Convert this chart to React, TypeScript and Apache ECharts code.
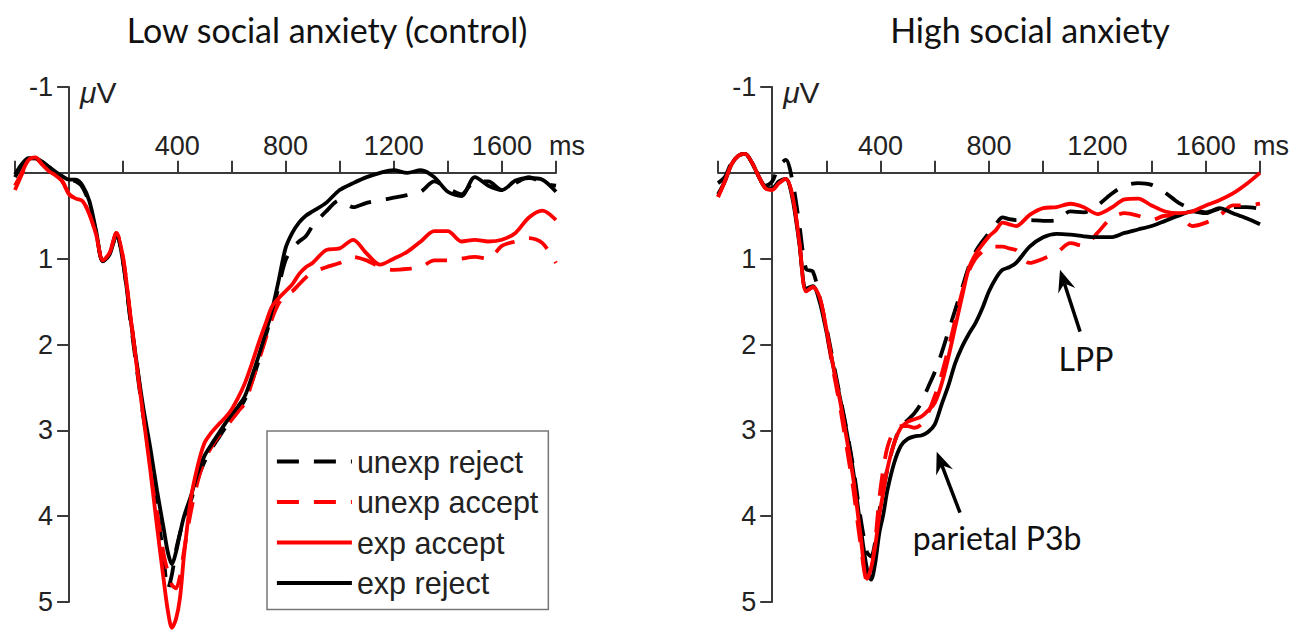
import React, { useEffect, useRef } from 'react';
import * as echarts from 'echarts';

// time points (ms)
const times = [-200,-175,-150,-125,-100,-75,-50,-25,0,25,50,75,100,125,150,175,200,225,250,275,300,325,350,365,380,395,410,425,450,475,500,525,550,575,600,625,650,675,700,725,750,775,800,825,850,875,900,950,1000,1050,1100,1150,1200,1250,1300,1350,1400,1450,1500,1550,1600,1650,1700,1750,1800];

// Low social anxiety (control) — µV
const lowUnexpReject = [0.05,-0.08,-0.16,-0.17,-0.13,-0.07,-0.01,0.04,0.08,0.1,0.17,0.36,0.7,1.03,0.95,0.72,1.05,1.68,2.28,2.85,3.35,3.9,4.5,4.85,4.68,4.4,4.2,4.03,3.82,3.57,3.37,3.22,3.1,2.98,2.88,2.77,2.64,2.44,2.2,1.92,1.64,1.32,1.02,0.88,0.8,0.74,0.62,0.45,0.32,0.4,0.35,0.32,0.29,0.26,0.22,0.1,0.18,0.25,0.1,0.1,0.2,0.12,0.05,0.12,0.15];
const lowUnexpAccept = [0.2,0.02,-0.15,-0.17,-0.1,-0.03,0.03,0.1,0.25,0.3,0.33,0.48,0.72,1.02,0.93,0.7,1.0,1.62,2.22,2.82,3.4,3.95,4.45,4.65,4.8,4.84,4.7,4.4,3.95,3.6,3.35,3.2,3.08,2.98,2.88,2.78,2.68,2.45,2.2,1.95,1.7,1.52,1.42,1.38,1.3,1.22,1.16,1.1,1.05,0.98,1.02,1.1,1.13,1.12,1.1,1.02,1.02,1.0,0.98,1.0,0.85,0.8,0.76,0.82,1.05];
const lowExpAccept = [0.15,0.0,-0.15,-0.18,-0.1,-0.02,0.03,0.1,0.25,0.3,0.33,0.48,0.72,1.02,0.93,0.7,1.0,1.62,2.25,2.85,3.46,4.12,4.75,5.1,5.3,5.2,4.95,4.45,3.8,3.42,3.15,3.03,2.94,2.86,2.76,2.62,2.45,2.23,1.99,1.77,1.56,1.46,1.38,1.3,1.18,1.1,1.05,0.9,0.88,0.78,0.94,1.07,1.0,0.92,0.8,0.68,0.68,0.8,0.78,0.8,0.78,0.7,0.52,0.44,0.55];
const lowExpReject = [0.02,-0.1,-0.17,-0.17,-0.13,-0.07,-0.01,0.04,0.08,0.08,0.15,0.33,0.68,1.03,0.95,0.72,1.05,1.65,2.22,2.75,3.2,3.7,4.15,4.42,4.56,4.42,4.2,4.0,3.77,3.5,3.3,3.17,3.05,2.93,2.82,2.72,2.6,2.38,2.14,1.88,1.6,1.25,0.88,0.7,0.58,0.5,0.45,0.35,0.2,0.12,0.05,0.0,-0.03,0.0,-0.03,0.05,0.22,0.27,0.05,0.15,0.2,0.09,0.06,0.08,0.22];

// High social anxiety — µV
const highUnexpReject = [0.12,0.05,-0.12,-0.2,-0.22,-0.12,0.04,0.15,0.1,-0.08,-0.15,0.1,0.6,1.12,1.15,1.45,1.8,2.2,2.6,3.0,3.45,4.0,4.42,4.47,4.3,3.95,3.7,3.45,3.15,2.95,2.88,2.8,2.68,2.5,2.32,2.1,1.85,1.6,1.35,1.1,0.92,0.8,0.7,0.6,0.52,0.54,0.55,0.55,0.56,0.55,0.45,0.46,0.38,0.25,0.15,0.12,0.14,0.23,0.35,0.42,0.46,0.42,0.4,0.4,0.42];
const highUnexpAccept = [0.28,0.1,-0.1,-0.2,-0.22,-0.12,0.04,0.18,0.2,0.12,0.07,0.27,0.8,1.38,1.33,1.45,1.85,2.3,2.72,3.2,3.7,4.3,4.75,4.65,4.3,3.8,3.45,3.2,3.0,2.95,2.95,2.97,2.93,2.8,2.6,2.35,2.05,1.72,1.4,1.15,1.0,0.92,0.87,0.86,0.86,0.88,0.9,1.05,1.0,0.93,0.82,0.85,0.7,0.53,0.47,0.5,0.55,0.5,0.5,0.62,0.58,0.5,0.38,0.38,0.36];
const highExpAccept = [0.28,0.1,-0.1,-0.2,-0.22,-0.12,0.04,0.18,0.2,0.12,0.07,0.27,0.8,1.38,1.33,1.45,1.82,2.25,2.65,3.1,3.58,4.2,4.73,4.6,4.35,4.0,3.72,3.45,3.15,2.97,2.9,2.87,2.84,2.77,2.68,2.46,2.15,1.8,1.45,1.12,0.95,0.84,0.74,0.67,0.58,0.6,0.62,0.49,0.41,0.4,0.36,0.4,0.48,0.41,0.31,0.3,0.38,0.45,0.47,0.45,0.38,0.32,0.24,0.13,0.0];
const highExpReject = [0.25,0.1,-0.1,-0.2,-0.22,-0.12,0.04,0.17,0.18,0.1,0.07,0.3,0.82,1.35,1.32,1.5,1.85,2.25,2.62,3.02,3.5,4.1,4.62,4.74,4.55,4.2,3.98,3.7,3.38,3.18,3.1,3.07,3.06,3.02,2.93,2.7,2.48,2.22,2.03,1.88,1.75,1.58,1.38,1.23,1.13,1.1,1.05,0.86,0.75,0.71,0.72,0.74,0.75,0.75,0.7,0.66,0.62,0.56,0.5,0.45,0.47,0.41,0.47,0.53,0.6];

const legendNames = ['unexp reject', 'unexp accept', 'exp accept', 'exp reject'];
const panelTitles = ['Low social anxiety (control)', 'High social anxiety'];

// annotations (data coordinates in the right panel): [text, textT, textV, tailT, tailV, tipT, tipV]
const annotations: [string, number, number, number, number, number, number][] = [
  ['LPP', 1158, 2.16, 1136, 1.85, 1062, 1.13],
  ['parietal P3b', 830, 4.25, 693, 3.96, 607, 3.25],
];

const X_MIN = -200, X_MAX = 1800, Y_MIN = -1, Y_MAX = 5;
const RED = '#ff0000';
const BLACK = '#000000';
const AXIS = '#3a3a3a';
const TICKFONT = "'Liberation Sans', Arial, sans-serif";
const TITLEFONT = "Lato, 'Open Sans', sans-serif";

export default function App() {
  const ref = useRef<HTMLDivElement>(null);
  useEffect(() => {
    const chart = echarts.init(ref.current!, null, { renderer: 'svg' });
    const W = 1294, H = 632;
    const grids = [
      { left: 15, right: 738, top: 87, bottom: 30, outerBoundsMode: 'none' },
      { left: 718, right: 34, top: 87, bottom: 30, outerBoundsMode: 'none' },
    ];
    const mk = (g: number, name: string, arr: number[], color: string, dashed: boolean, z: number) => ({
      type: 'line',
      name,
      xAxisIndex: g,
      yAxisIndex: g,
      data: times.map((t, i) => [t, arr[i]]),
      symbol: 'none',
      smooth: 0.3,
      clip: false,
      color,
      z,
      lineStyle: { color, width: 3.8, type: dashed ? [22, 15] : 'solid', cap: 'butt' },
    });
    const panels = [
      [lowUnexpReject, lowUnexpAccept, lowExpAccept, lowExpReject],
      [highUnexpReject, highUnexpAccept, highExpAccept, highExpReject],
    ];
    const series: any[] = [];
    panels.forEach((p, g) => {
      series.push(mk(g, legendNames[0], p[0], BLACK, true, 2));
      series.push(mk(g, legendNames[1], p[1], RED, true, 3));
      series.push(mk(g, legendNames[3], p[3], BLACK, false, 4));
      series.push(mk(g, legendNames[2], p[2], RED, false, 5));
    });
    const xAxes = grids.map((gr, g) => {
      const gh = H - gr.top - gr.bottom;
      return {
        type: 'value',
        gridIndex: g,
        min: X_MIN,
        max: X_MAX,
        interval: 200,
        position: 'top',
        offset: -(gh * (0 - Y_MIN)) / (Y_MAX - Y_MIN),
        axisLine: { onZero: false, lineStyle: { color: AXIS, width: 2 } },
        axisTick: { show: true, length: 12, lineStyle: { color: AXIS, width: 2 } },
        axisLabel: {
          show: true,
          showMinLabel: true,
          showMaxLabel: true,
          margin: 13,
          fontSize: 27,
          fontFamily: TICKFONT,
          color: '#222',
          formatter: (v: number) => (v === 1800 ? '{ms|ms}' : v > 0 && v % 400 === 0 ? String(v) : ''),
          rich: { ms: { fontSize: 27, fontFamily: TICKFONT, color: '#222', padding: [0, 0, 0, 22] } },
        },
        splitLine: { show: false },
      };
    });
    const yAxes = grids.map((gr, g) => {
      const gw = W - gr.left - gr.right;
      return {
        type: 'value',
        gridIndex: g,
        inverse: true,
        min: Y_MIN,
        max: Y_MAX,
        interval: 1,
        position: 'left',
        offset: -(gw * (0 - X_MIN)) / (X_MAX - X_MIN),
        axisLine: { onZero: false, lineStyle: { color: AXIS, width: 2 } },
        axisTick: { show: true, length: 12, lineStyle: { color: AXIS, width: 2 } },
        axisLabel: {
          margin: 16,
          fontSize: 27,
          fontFamily: TICKFONT,
          color: '#222',
          showMinLabel: true,
          showMaxLabel: true,
          formatter: (v: number) => (v === 0 ? '' : String(v)),
        },
        splitLine: { show: false },
      };
    });
    chart.setOption({
      animation: false,
      backgroundColor: '#ffffff',
      title: [
        { text: panelTitles[0], left: 322, top: 7, textAlign: 'center', textStyle: { fontFamily: TITLEFONT, fontSize: 34, fontWeight: 'normal', color: '#111' } },
        { text: panelTitles[1], left: 1025, top: 7, textAlign: 'center', textStyle: { fontFamily: TITLEFONT, fontSize: 34, fontWeight: 'normal', color: '#111' } },
      ],
      grid: grids,
      xAxis: xAxes,
      yAxis: yAxes,
      legend: {
        data: legendNames,
        orient: 'vertical',
        left: 267,
        top: 431,
        itemWidth: 75,
        itemHeight: 14,
        itemGap: 9.5,
        padding: [15, 10, 11, 8],
        borderColor: '#777',
        borderWidth: 1.5,
        backgroundColor: '#fff',
        selectedMode: false,
        itemStyle: { color: 'rgba(0,0,0,0)', borderWidth: 0, opacity: 0 },
        lineStyle: { width: 3.8 },
        textStyle: { fontSize: 30.5, fontFamily: TICKFONT, color: '#222', lineHeight: 28 },
      },
      series,
    });

    const px = (g: number, t: number, v: number) => chart.convertToPixel({ gridIndex: g } as any, [t, v]) as number[];
    const graphics: any[] = [];
    [0, 1].forEach((g) => {
      const p = px(g, 0, Y_MIN);
      graphics.push({
        type: 'text',
        x: p[0] + 11,
        y: p[1] + 5,
        style: {
          text: '{i|μ}V',
          font: `30px ${TICKFONT}`,
          fill: '#222',
          verticalAlign: 'middle',
          rich: { i: { fontStyle: 'italic', fontSize: 30, fontFamily: TICKFONT, fill: '#222' } },
        },
      });
    });
    annotations.forEach(([text, tt, tv, at, av, bt, bv]) => {
      const tp = px(1, tt, tv);
      const tail = px(1, at, av);
      const tip = px(1, bt, bv);
      const dx = tip[0] - tail[0];
      const dy = tip[1] - tail[1];
      const len = Math.hypot(dx, dy);
      const ux = dx / len, uy = dy / len;
      const nx = -uy, ny = ux;
      const L = 22, HW = 9;
      const back = [tip[0] - ux * L, tip[1] - uy * L];
      const notch = [tip[0] - ux * L * 0.65, tip[1] - uy * L * 0.65];
      graphics.push({
        type: 'line',
        shape: { x1: tail[0], y1: tail[1], x2: notch[0], y2: notch[1] },
        style: { stroke: '#000', lineWidth: 3.5 },
      });
      graphics.push({
        type: 'polygon',
        shape: { points: [tip, [back[0] + nx * HW, back[1] + ny * HW], notch, [back[0] - nx * HW, back[1] - ny * HW]] },
        style: { fill: '#000' },
      });
      graphics.push({
        type: 'text',
        x: tp[0],
        y: tp[1],
        style: { text, font: `32px ${TITLEFONT}`, fill: '#111', align: 'center', verticalAlign: 'middle' },
      });
    });
    chart.setOption({ graphic: graphics });
    return () => chart.dispose();
  }, []);
  return <div ref={ref} style={{ position: 'fixed', left: 0, top: 0, width: 1294, height: 632 }} />;
}
